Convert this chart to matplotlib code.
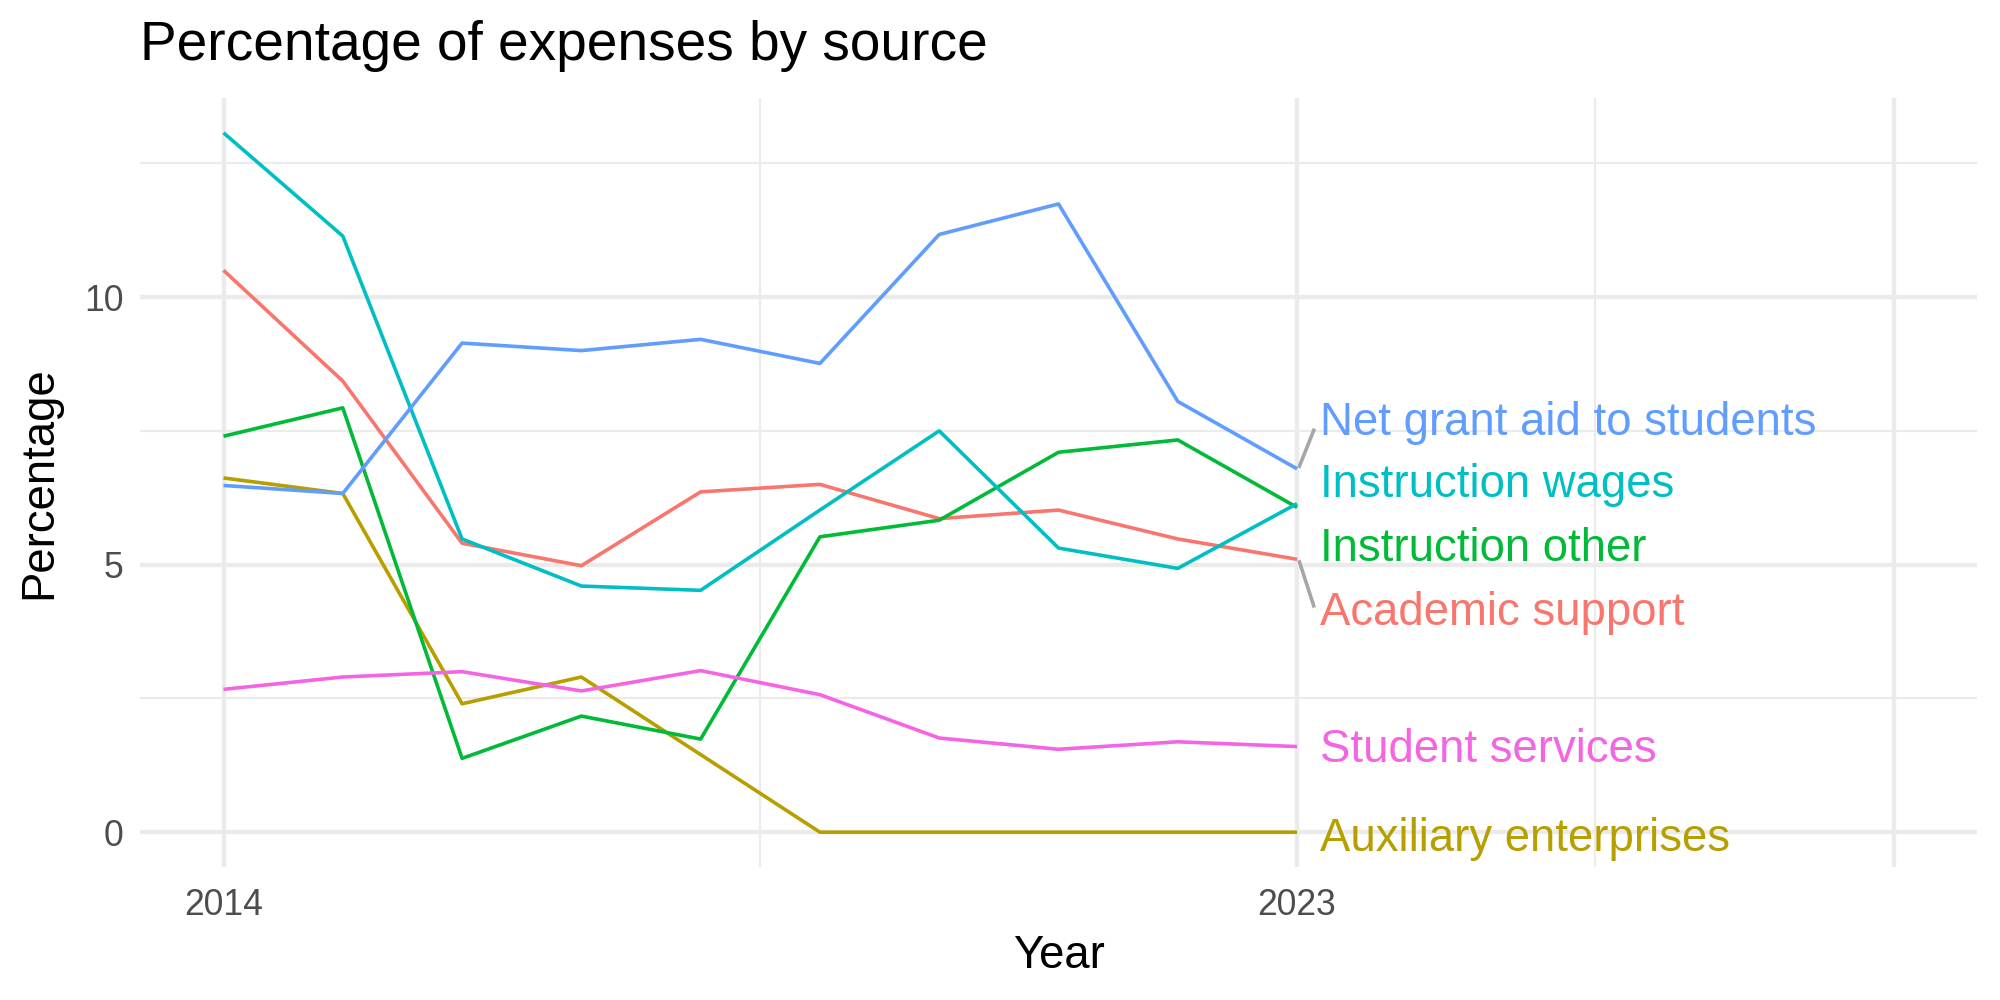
import numpy as np
import matplotlib.pyplot as plt

plt.rcParams['font.family'] = ['Liberation Sans', 'DejaVu Sans']

years = np.arange(2014, 2024)

names = ['Academic support', 'Auxiliary enterprises', 'Instruction other',
         'Instruction wages', 'Net grant aid to students', 'Student services']
colors = ['#F8766D', '#B79F00', '#00BA38', '#00BFC4', '#619CFF', '#F564E3']

academic = [10.50, 8.43, 5.40, 4.98, 6.36, 6.50, 5.86, 6.02, 5.48, 5.10]
auxiliary = [6.62, 6.33, 2.40, 2.90, 1.45, 0.0, 0.0, 0.0, 0.0, 0.0]
instr_other = [7.40, 7.93, 1.38, 2.17, 1.74, 5.52, 5.83, 7.10, 7.33, 6.07]
instr_wages = [13.07, 11.14, 5.48, 4.60, 4.52, 6.02, 7.50, 5.31, 4.93, 6.14]
net_grant = [6.48, 6.33, 9.14, 9.00, 9.21, 8.76, 11.17, 11.74, 8.05, 6.79]
student_serv = [2.67, 2.90, 3.00, 2.64, 3.02, 2.57, 1.76, 1.55, 1.69, 1.60]
series = [academic, auxiliary, instr_other, instr_wages, net_grant, student_serv]

# where the repelled labels ended up (y, in data units), and which got a leader line
label_y = [4.10, -0.12, 5.29, 6.48, 7.64, 1.53]
has_segment = [True, False, False, False, True, False]

fig = plt.figure(figsize=(10, 5), dpi=200)
ax = fig.add_axes((0.07, 0.133, 0.9185, 0.769))

for v, c in zip(series, colors):
    ax.plot(years, v, color=c, lw=1.3, solid_capstyle='butt', zorder=3)

x_end = years[-1]
for name, v, c, ly, seg in zip(names, series, colors, label_y, has_segment):
    ax.text(x_end + 0.19, ly, name, color=c, fontsize=16.4, ha='left', va='center', zorder=4)
    if seg:
        s = np.sign(ly - v[-1])
        ax.plot([x_end + 0.02, x_end + 0.14], [v[-1] + s * 0.05, ly - s * 0.13],
                color='#A6A6A6', lw=1.3, zorder=3)

ax.set_xlim(2013.3, 2028.7)
ax.set_ylim(-0.65, 13.72)
ax.set_xticks([2014, 2023, 2028])
ax.set_xticklabels(['2014', '2023', ''])
ax.set_xticks([2018.5, 2025.5], minor=True)
ax.set_yticks([0, 5, 10])
ax.set_yticks([2.5, 7.5, 12.5], minor=True)

ax.grid(which='major', color='#EBEBEB', lw=1.55)
ax.grid(which='minor', color='#EBEBEB', lw=0.78)
ax.set_axisbelow(True)
for s in ax.spines.values():
    s.set_visible(False)
ax.tick_params(which='both', length=0)
ax.tick_params(axis='x', labelsize=12.8, labelcolor='#4D4D4D', pad=7.5)
ax.tick_params(axis='y', labelsize=12.8, labelcolor='#4D4D4D', pad=6)

ax.set_xlabel('Year', fontsize=16.4, labelpad=4)
ax.set_ylabel('Percentage', fontsize=16.4, labelpad=8)
fig.text(0.07, 0.94, 'Percentage of expenses by source', fontsize=19.8, ha='left', va='baseline')

fig.savefig('out.png', dpi=200, facecolor='white')
